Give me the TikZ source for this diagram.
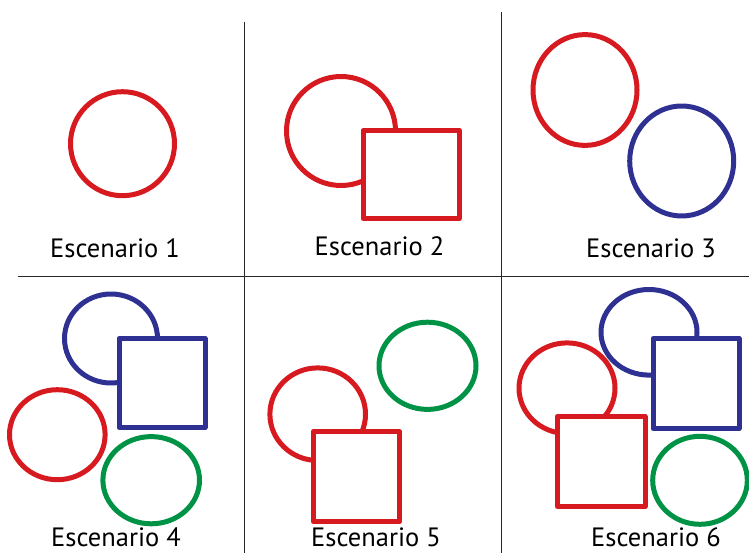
\documentclass[tikz,border=0pt]{standalone}
\usepackage{fontspec}
\setmainfont{PT Sans}
\definecolor{rojo}{RGB}{215,25,32}
\definecolor{azul}{RGB}{46,49,146}
\definecolor{verde}{RGB}{0,146,69}
\begin{document}
\begin{tikzpicture}[x=1pt, y=-1pt, line join=round, font=\fontsize{26.5}{30}\selectfont,
  fig/.style={line width=5pt, fill=white},
  lbl/.style={anchor=base, inner sep=0pt}]
\useasboundingbox (0,0) rectangle (749,553);
% divisiones
\draw[line width=0.8pt, black!85] (244,22)--(244,553) (501,12)--(501,553) (18,276)--(749,276);
% escenario 1
\draw[fig, draw=rojo] (122.5,143.7) ellipse [x radius=52pt, y radius=52pt];
% escenario 2
\draw[fig, draw=rojo] (341,131) ellipse [x radius=54.5pt, y radius=54.5pt];
\draw[fig, draw=rojo] (363,130.3) rectangle (459.5,218.7);
% escenario 3
\draw[fig, draw=rojo] (585,90) ellipse [x radius=52pt, y radius=55.4pt];
\draw[fig, draw=azul] (681.7,161) ellipse [x radius=52pt, y radius=55pt];
% escenario 4
\draw[fig, draw=azul] (111,338.5) ellipse [x radius=46.5pt, y radius=44.5pt];
\draw[fig, draw=azul] (119,338.3) rectangle (205,427.7);
\draw[fig, draw=rojo] (57.3,434.7) ellipse [x radius=47.8pt, y radius=45pt];
\draw[fig, draw=verde] (151.2,480.2) ellipse [x radius=48.3pt, y radius=43.6pt];
% escenario 5
\draw[fig, draw=verde] (427.5,365.8) ellipse [x radius=48.5pt, y radius=43.6pt];
\draw[fig, draw=rojo] (317.7,414.2) ellipse [x radius=47.8pt, y radius=46.3pt];
\draw[fig, draw=rojo] (313.3,431.5) rectangle (399.5,521.8);
% escenario 6
\draw[fig, draw=azul] (649,332.3) ellipse [x radius=48pt, y radius=42.8pt];
\draw[fig, draw=azul] (653,338.3) rectangle (739,428.5);
\draw[fig, draw=rojo] (567,388.2) ellipse [x radius=48pt, y radius=45.3pt];
\draw[fig, draw=rojo] (557.3,416.3) rectangle (645,506.5);
\draw[fig, draw=verde] (700,480.3) ellipse [x radius=47.3pt, y radius=44pt];
% textos
\foreach \n/\x/\y in {1/115/258, 2/379.5/255, 3/651/258, 4/116/546, 5/376/546, 6/656/546}
  \node[lbl] (esc\n) at (\x,\y) {Escenario \n};
\end{tikzpicture}
\end{document}
